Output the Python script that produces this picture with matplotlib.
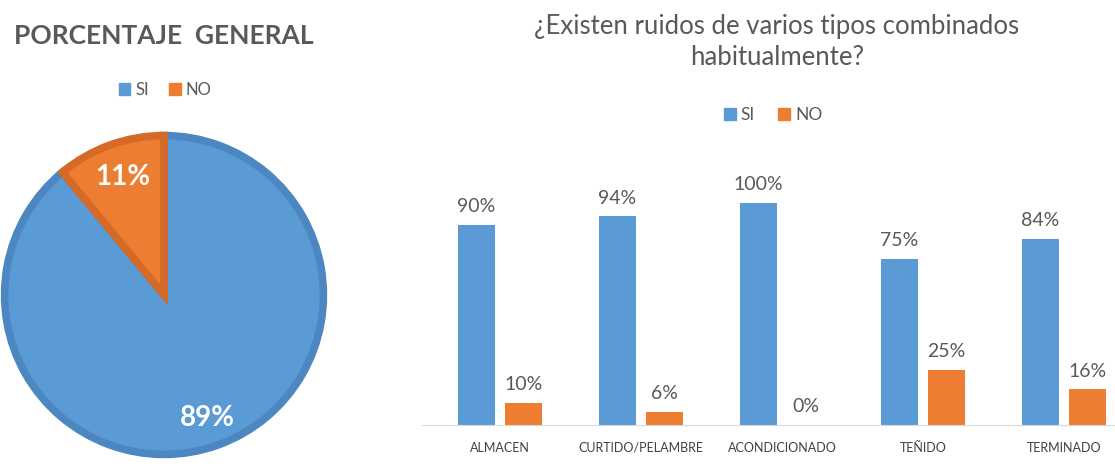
import numpy as np
import matplotlib.pyplot as plt
from matplotlib.patches import Patch

plt.rcParams['font.family'] = ['Lato', 'DejaVu Sans']

# general percentage (pie)
pie_labels = ['SI', 'NO']
pie_values = [89, 11]

# per area (bars)
areas = ['ALMACEN', 'CURTIDO/PELAMBRE', 'ACONDICIONADO', 'TEÑIDO', 'TERMINADO']
si_vals = [90, 94, 100, 75, 84]
no_vals = [10, 6, 0, 25, 16]

BLUE = '#5B9BD5'
ORANGE = '#ED7D31'
BLUE_EDGE = '#4D87C2'
ORANGE_EDGE = '#D46A26'
GRAY = '#595959'

W, H = 1115, 469
fig = plt.figure(figsize=(W/100, H/100), dpi=100)

# ---------------- pie ----------------
ax1 = fig.add_axes([3/W, 13/H, 322/W, 322/H])
wedges, _ = ax1.pie(pie_values, colors=[BLUE, ORANGE], startangle=90,
                    counterclock=False,
                    wedgeprops=dict(linewidth=5.5, edgecolor='none'))
# darker borders, like the original
for w, ec in zip(wedges, [BLUE_EDGE, ORANGE_EDGE]):
    w.set_edgecolor(ec)
ax1.set_xlim(-1.01, 1.01)
ax1.set_ylim(-1.01, 1.01)
ax1.set_aspect('equal')
ax1.axis('off')
ax1.text(-0.26, 0.74, '11%', color='white', fontsize=20, fontweight='bold',
         ha='center', va='center')
ax1.text(0.27, -0.77, '89%', color='white', fontsize=20, fontweight='bold',
         ha='center', va='center')

fig.text(164/W, 1 - 36/H, 'PORCENTAJE  GENERAL', fontsize=19, fontweight='bold',
         color=GRAY, ha='center', va='center')
fig.legend(handles=[Patch(color=BLUE, label='SI'), Patch(color=ORANGE, label='NO')],
           loc='center', bbox_to_anchor=(165/W, 1 - 90/H), ncol=2, frameon=False,
           fontsize=12, handlelength=0.7, handleheight=0.7, handletextpad=0.3,
           columnspacing=1.2, labelcolor=GRAY)

# ---------------- bars ----------------
ax2 = fig.add_axes([429.5/W, (H-425)/H, (W-429.5)/W, 222/H])
x = np.arange(len(areas))
off = 0.167
bw = 0.265
b1 = ax2.bar(x - off, si_vals, bw, color=BLUE)
b2 = ax2.bar(x + off, no_vals, bw, color=ORANGE)
for bars, vals in [(b1, si_vals), (b2, no_vals)]:
    for b, v in zip(bars, vals):
        ax2.annotate('%d%%' % v, (b.get_x() + b.get_width()/2, v),
                     xytext=(0, 7), textcoords='offset points',
                     ha='center', va='bottom', fontsize=14, color=GRAY)
ax2.set_xlim(-0.5, -0.5 + (W - 429.5)/141)
ax2.set_ylim(0, 100)
ax2.set_xticks(x)
ax2.set_xticklabels(areas, fontsize=9, color='#404040')
ax2.tick_params(axis='x', length=0, pad=12)
ax2.set_yticks([])
for s in ['top', 'right', 'left']:
    ax2.spines[s].set_visible(False)
ax2.spines['bottom'].set_color('#D9D9D9')
ax2.spines['bottom'].set_bounds(-0.55, 5)
ax2.patch.set_alpha(0)

fig.text(777/W, 1 - 42/H, '¿Existen ruidos de varios tipos combinados\nhabitualmente?',
         fontsize=18.5, color=GRAY, ha='center', va='center', linespacing=1.32)
fig.legend(handles=[Patch(color=BLUE, label='SI'), Patch(color=ORANGE, label='NO')],
           loc='center', bbox_to_anchor=(773/W, 1 - 115/H), ncol=2, frameon=False,
           fontsize=12.5, handlelength=0.7, handleheight=0.7, handletextpad=0.3,
           columnspacing=1.3, labelcolor=GRAY)

fig.savefig('out.png', dpi=100)
